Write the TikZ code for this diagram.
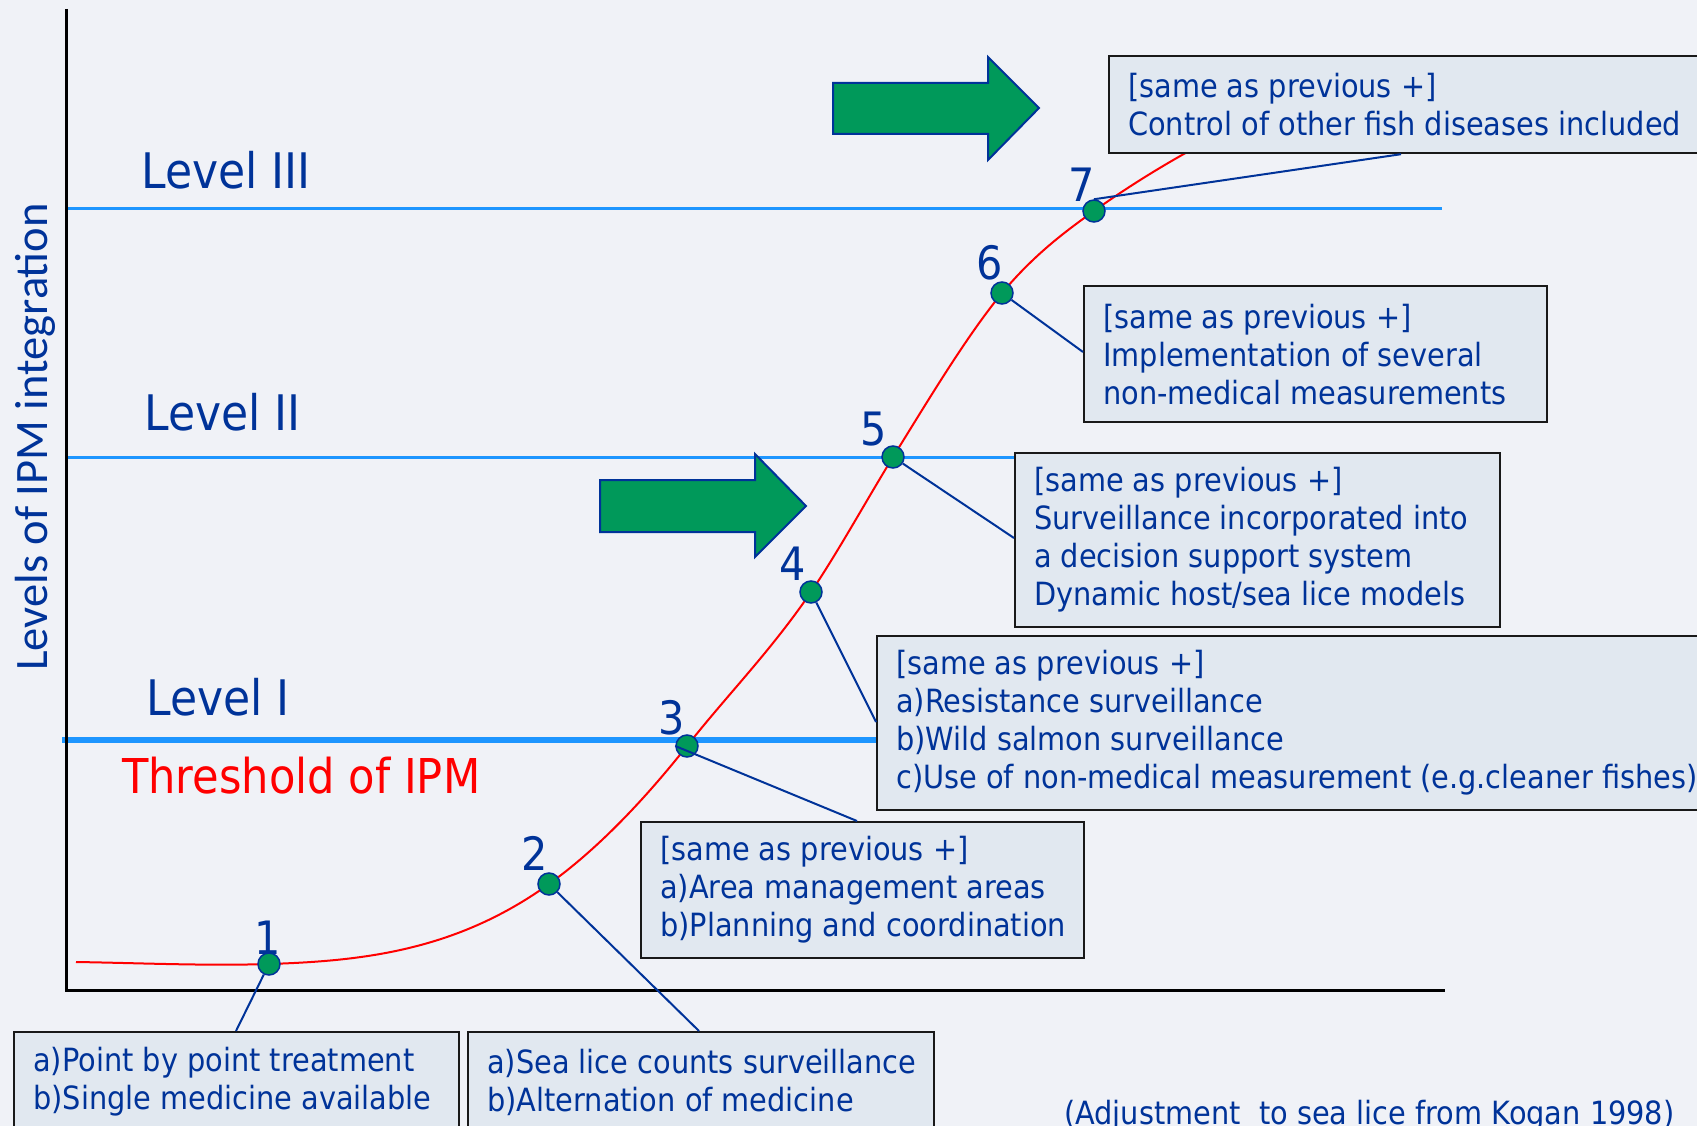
\documentclass[tikz,border=0pt]{standalone}
\usepackage{fontspec}
\setmainfont{DejaVu Sans}[FakeStretch=0.9]
\newfontfamily\calfont{Carlito}
\usetikzlibrary{calc}
\definecolor{bgc}{RGB}{240,242,247}
\definecolor{boxc}{RGB}{225,232,240}
\definecolor{navy}{RGB}{0,51,153}
\definecolor{lblue}{RGB}{30,150,255}
\definecolor{grn}{RGB}{0,153,90}
\begin{document}
\begin{tikzpicture}[x=1pt,y=-1pt,
  axisline/.style={line width=3pt,black},
  lvl/.style={lblue,line width=3pt},
  lbl/.style={navy,font=\fontsize{49}{56}\selectfont,inner sep=0pt,anchor=base west},
  num/.style={navy,font=\fontsize{46}{50}\selectfont,inner sep=0pt,anchor=base},
  dot/.style={circle,fill=grn,draw=navy,line width=1.5pt,minimum size=22pt,inner sep=0pt},
  infobox/.style={draw=black!90,fill=boxc,line width=2.2pt,anchor=north west,inner sep=0pt},
  btxt/.style={navy,font=\fontsize{32}{38}\selectfont,align=left,anchor=west,inner sep=0pt},
  con/.style={navy,line width=2pt},
  garrow/.style={fill=grn,draw=navy,line width=2pt,line join=miter}]
\useasboundingbox (0,0) rectangle (1697,1126);
\clip (0,0) rectangle (1697,1126);
\fill[bgc] (0,0) rectangle (1697,1126);

% level lines
\draw[lvl] (66,209) -- (1442,209);
\draw[lvl] (66,457) -- (1014,457);
\draw[lblue,line width=6.5pt] (62,740) -- (876,740);

% axes
\draw[axisline] (66,9) -- (66,990) -- (1445,990);

% curve
\draw[red,line width=2pt] (76,962)
  .. controls (140,963) and (205,966) .. (269,964)
  .. controls (362,961) and (456,951) .. (549,884)
  .. controls (595,851) and (641,804) .. (687,746)
  .. controls (728,694) and (770,652) .. (811,592)
  .. controls (838,552) and (866,501) .. (893,457)
  .. controls (929,399) and (966,337) .. (1002,293)
  .. controls (1033,256) and (1063,233) .. (1094,211)
  .. controls (1129,186) and (1165,164) .. (1200,145);

% green arrows
\draw[garrow] (833,83) -- (988,83) -- (988,57) -- (1039,108) -- (988,160) -- (988,134) -- (833,134) -- cycle;
\draw[garrow] (600,480) -- (755,480) -- (755,454) -- (806,506) -- (755,557) -- (755,532) -- (600,532) -- cycle;

% boxes
\node[infobox,minimum width=590pt,minimum height=97pt] (b7) at (1108,55) {};
\node[infobox,minimum width=463pt,minimum height=136pt] (b6) at (1083,285) {};
\node[infobox,minimum width=485pt,minimum height=174pt] (b5) at (1014,452) {};
\node[infobox,minimum width=830pt,minimum height=174pt] (b4) at (876,635) {};
\node[infobox,minimum width=443pt,minimum height=136pt] (b3) at (640,821) {};
\node[infobox,minimum width=445pt,minimum height=100pt] (b1) at (13,1031) {};
\node[infobox,minimum width=466pt,minimum height=100pt] (b2) at (467,1031) {};

\node[btxt] (t7) at ($(b7.west)+(20,0)$) {[same as previous +]\\Control of other fish diseases included};
\node[btxt] (t6) at ($(b6.west)+(20,0)$) {[same as previous +]\\Implementation of several\\non-medical measurements};
\node[btxt] (t5) at ($(b5.west)+(20,0)$) {[same as previous +]\\Surveillance incorporated into\\a decision support system\\Dynamic host/sea lice models};
\node[btxt] (t4) at ($(b4.west)+(20,0)$) {[same as previous +]\\a)Resistance surveillance\\b)Wild salmon surveillance\\c)Use of non-medical measurement (e.g.cleaner fishes)};
\node[btxt] (t3) at ($(b3.west)+(20,0)$) {[same as previous +]\\a)Area management areas\\b)Planning and coordination};
\node[btxt] (t1) at ($(b1.west)+(20,0)$) {a)Point by point treatment\\b)Single medicine available};
\node[btxt] (t2) at ($(b2.west)+(20,0)$) {a)Sea lice counts surveillance\\b)Alternation of medicine};

% points
\node[dot] (p1) at (269,964) {};
\node[dot] (p2) at (549,884) {};
\node[dot] (p3) at (687,746) {};
\node[dot] (p4) at (811,592) {};
\node[dot] (p5) at (893,457) {};
\node[dot] (p6) at (1002,293) {};
\node[dot] (p7) at (1094,211) {};

% connectors
\draw[con] (p1) -- ($(b1.north west)+(223,0)$);
\draw[con] (p2) -- ($(b2.north west)+(232,0)$);
\draw[con] (p3.west) -- ($(b3.north west)+(217,0)$);
\draw[con] (p4) -- ($(b4.north west)+(0,87)$);
\draw[con] (p5) -- ($(b5.north west)+(0,86)$);
\draw[con] (p6) -- ($(b6.north west)+(0,67)$);
\draw[con] (p7.north) -- ($(b7.south west)+(293,0)$);

% numbers
\node[num] (n1) at (268,954) {1};
\node[num] (n2) at (535,870) {2};
\node[num] (n3) at (672,734) {3};
\node[num] (n4) at (793,580) {4};
\node[num] (n5) at (874,445) {5};
\node[num] (n6) at (990,279) {6};
\node[num] (n7) at (1082,202) {7};

% level labels
\node[lbl] (l3) at (141,189) {Level III};
\node[lbl] (l2) at (144,430) {Level II};
\node[lbl] (l1) at (146,715) {Level I};
\node[lbl,red,font=\fontsize{48}{56}\selectfont] (thr) at (122,793) {Threshold of IPM};

% y label
\node[rotate=90,anchor=base,inner sep=0pt,navy,font=\calfont\fontsize{46.5}{50}\selectfont] (ylab) at (47,437) {Levels of IPM integration};

% footnote
\node[navy,anchor=base west,inner sep=0pt,font=\fontsize{32}{36}\selectfont] (src) at (1064,1124) {(Adjustment\ \ to sea lice from Kogan 1998)};
\end{tikzpicture}
\end{document}
